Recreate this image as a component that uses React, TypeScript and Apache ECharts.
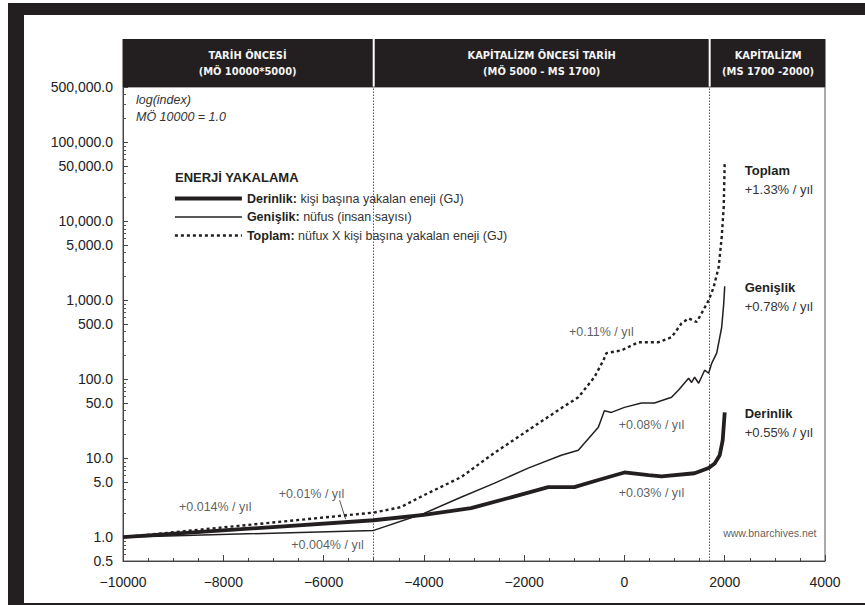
import React, { useEffect, useRef } from 'react';
import * as echarts from 'echarts';

// ---- Data ----
const derinlik: [number, number][] = [
  [-10000, 1.0], [-5000, 1.64], [-4000, 1.92], [-3060, 2.33], [-2260, 3.2], [-1520, 4.3],
  [-1000, 4.3], [-520, 5.3], [0, 6.6], [480, 6.1], [740, 5.9], [1400, 6.45], [1680, 7.5],
  [1800, 8.6], [1900, 10.9], [1960, 16.9], [2000, 38],
];
const genislik: [number, number][] = [
  [-10000, 1.0], [-5000, 1.22], [-4000, 2.0], [-3260, 3.2], [-2600, 4.8], [-1920, 7.5],
  [-1260, 10.9], [-920, 12.6], [-520, 24.7], [-400, 40], [-260, 38], [0, 44], [340, 50],
  [600, 50], [940, 59], [1080, 73], [1280, 103], [1340, 91], [1400, 106], [1480, 89],
  [1600, 130], [1680, 119], [1740, 159], [1840, 214], [1940, 455], [1980, 900], [2000, 1500],
];
const toplam: [number, number][] = [
  [-10000, 1.0], [-5000, 2.05], [-4460, 2.4], [-4000, 3.4], [-3260, 5.75], [-2600, 11.6],
  [-1920, 22.6], [-1260, 43], [-920, 59], [-600, 106], [-420, 173], [-360, 214], [-60, 232],
  [280, 294], [680, 294], [940, 340], [1140, 510], [1280, 590], [1440, 530], [1540, 685],
  [1680, 1000], [1780, 1460], [1880, 2630], [1940, 6300], [1980, 15000], [2000, 55000],
];

const seriesNames = ['Derinlik', 'Genişlik', 'Toplam'];
const legendDescriptions = [
  'kişi başına yakalan eneji (GJ)',
  'nüfus (insan sayısı)',
  'nüfux X kişi başına yakalan eneji (GJ)',
];
const growthRates = ['+0.55% / yıl', '+0.78% / yıl', '+1.33% / yıl'];

const periodStarts = [-10000, -5000, 1700];
const periodEnds = [-5000, 1700, 4000];
const periodTitles = ['TARİH ÖNCESİ', 'KAPİTALİZM ÖNCESİ TARİH', 'KAPİTALİZM'];
const periodRanges = ['(MÖ 10000*5000)', '(MÖ 5000 - MS 1700)', '(MS 1700 -2000)'];

const yLabelValues = [0.5, 1, 5, 10, 50, 100, 500, 1000, 5000, 10000, 50000, 100000, 500000];
const yMinorValues = [
  0.6, 0.7, 0.8, 0.9, 2, 3, 4, 6, 7, 8, 9, 20, 30, 40, 60, 70, 80, 90,
  200, 300, 400, 600, 700, 800, 900, 2000, 3000, 4000, 6000, 7000, 8000, 9000,
  20000, 30000, 40000, 60000, 70000, 80000, 90000, 200000, 300000, 400000,
];

const annotationX = [-8160, -6240, -5920, -460, 540, 540, 2900];
const annotationY = [2.4, 3.5, 0.79, 394, 26.2, 3.6, 1.12];
const annotationText = [
  '+0.014% / yıl', '+0.01% / yıl', '+0.004% / yıl', '+0.11% / yıl',
  '+0.08% / yıl', '+0.03% / yıl', 'www.bnarchives.net',
];
const annotationSize = [12.5, 12.5, 12.5, 12.5, 12.5, 12.5, 10.5];
const pointerFrom: [number, number] = [-5680, 2.94];
const pointerTo: [number, number] = [-5560, 1.69];

const X_MIN = -10000;
const X_MAX = 4000;
const Y_MIN = 0.5;
const Y_MAX = 500000;

const FONT = "'Liberation Sans', Arial, Helvetica, sans-serif";
const HEAD_FONT = "'Liberation Sans Narrow', 'DejaVu Sans Condensed', 'Liberation Sans', sans-serif";
const INK = '#231f20';
const HEADER_H = 48;

export default function App() {
  const ref = useRef<HTMLDivElement>(null);

  useEffect(() => {
    if (!ref.current) return;
    const chart = echarts.init(ref.current, undefined, { renderer: 'svg' });

    const seriesData = [derinlik, genislik, toplam];
    const widths = [3.8, 1.5, 2.4];
    const types: any[] = ['solid', 'solid', [3, 3]];
    const endOffsets = [[12, 11], [12, 11], [12, 17]];

    const lineSeries = seriesNames.map((name, i) => ({
      name,
      type: 'line',
      data: seriesData[i],
      showSymbol: false,
      symbol: 'none',
      smooth: false,
      z: 5,
      lineStyle: { color: INK, width: widths[i], type: types[i] },
      itemStyle: { color: INK },
      endLabel: {
        show: true,
        offset: endOffsets[i],
        formatter: `{n|${name}}\n{p|${growthRates[i]}}`,
        rich: {
          n: { fontFamily: FONT, fontWeight: 'bold', fontSize: 13, color: INK, lineHeight: 19 },
          p: { fontFamily: FONT, fontSize: 13, color: '#333', lineHeight: 19 },
        },
      },
    }));

    const option: any = {
      animation: false,
      backgroundColor: '#ffffff',
      textStyle: { fontFamily: FONT },
      title: [
        {
          text: 'log(index)\nMÖ 10000 = 1.0',
          left: 136,
          top: 91,
          padding: 0,
          textStyle: { fontFamily: FONT, fontStyle: 'italic', fontWeight: 'normal', fontSize: 12.5, color: '#333', lineHeight: 17 },
        },
        {
          text: 'ENERJİ YAKALAMA',
          left: 175,
          top: 171,
          padding: 0,
          textStyle: { fontFamily: FONT, fontWeight: 'bold', fontSize: 13, color: INK },
        },
      ],
      legend: {
        show: true,
        orient: 'vertical',
        left: 173,
        top: 192,
        padding: 0,
        itemWidth: 67,
        itemHeight: 14,
        itemGap: 5.5,
        selectedMode: false,
        itemStyle: { opacity: 0, borderWidth: 0 },
        data: seriesNames.map((name, i) => ({
          name,
          itemStyle: { opacity: 0, borderWidth: 0 },
          lineStyle: { width: widths[i], type: types[i], color: INK, opacity: 1 },
        })),
        formatter: (name: string) => {
          const i = seriesNames.indexOf(name);
          return `{b|${name}:} {r|${legendDescriptions[i]}}`;
        },
        textStyle: {
          fontFamily: FONT,
          fontSize: 12.5,
          color: '#333',
          rich: {
            b: { fontFamily: FONT, fontSize: 12.5, fontWeight: 'bold', color: INK },
            r: { fontFamily: FONT, fontSize: 12.5, color: '#333' },
          },
        },
      },
      grid: {
        left: 123,
        right: 40,
        top: 87,
        bottom: 44,
        show: true,
        borderColor: '#555',
        borderWidth: 1,
        backgroundColor: 'transparent',
      },
      xAxis: {
        type: 'value',
        min: X_MIN,
        max: X_MAX,
        interval: 2000,
        splitLine: { show: false },
        axisLine: { show: true, onZero: false, lineStyle: { color: '#444', width: 1 } },
        axisTick: { show: true, inside: true, length: 6, lineStyle: { color: '#444' } },
        minorTick: { show: true, splitNumber: 4, length: 3, lineStyle: { color: '#444' } },
        axisLabel: {
          margin: 14,
          fontFamily: FONT,
          fontSize: 14,
          color: '#222',
          formatter: (v: number) => (v < 0 ? '\u2212' + Math.abs(v) : String(v)),
        },
      },
      yAxis: [
        {
          type: 'log',
          logBase: 10,
          min: Y_MIN,
          max: Y_MAX,
          position: 'left',
          splitLine: { show: false },
          axisLine: { show: true, onZero: false, lineStyle: { color: '#444', width: 1 } },
          axisTick: { show: true, inside: true, length: 5, customValues: yLabelValues, lineStyle: { color: '#444' } },
          axisLabel: {
            margin: 10,
            fontFamily: FONT,
            fontSize: 14,
            color: '#222',
            customValues: yLabelValues,
            formatter: (v: number) =>
              Number(v).toLocaleString('en-US', { minimumFractionDigits: 1, maximumFractionDigits: 1 }),
          },
        },
        {
          type: 'log',
          logBase: 10,
          min: Y_MIN,
          max: Y_MAX,
          position: 'left',
          offset: 0,
          splitLine: { show: false },
          axisLine: { show: false, onZero: false },
          axisTick: { show: true, inside: true, length: 3, customValues: yMinorValues, lineStyle: { color: '#555' } },
          axisLabel: { show: false },
        },
      ],
      series: [
        ...lineSeries,
        {
          type: 'custom',
          name: 'periods',
          clip: false,
          z: 10,
          silent: true,
          encode: { x: [0, 1], y: 2 },
          data: periodStarts.map((s, i) => [s, periodEnds[i], Y_MAX]),
          renderItem: (params: any, api: any) => {
            const idx = params.dataIndex;
            const p0 = api.coord([api.value(0), Y_MAX]);
            const p1 = api.coord([api.value(1), Y_MAX]);
            const left = p0[0] + (idx > 0 ? 1 : -0.5);
            const right = p1[0] - (idx < periodStarts.length - 1 ? 1 : -0.5);
            const bottom = p0[1];
            const top = bottom - HEADER_H;
            return {
              type: 'group',
              children: [
                {
                  type: 'rect',
                  shape: { x: left, y: top, width: right - left, height: HEADER_H },
                  style: { fill: INK },
                },
                {
                  type: 'text',
                  style: {
                    text: periodTitles[idx] + '\n' + periodRanges[idx],
                    x: (left + right) / 2,
                    y: top + HEADER_H / 2,
                    align: 'center',
                    verticalAlign: 'middle',
                    fill: '#f4f4f4',
                    fontFamily: HEAD_FONT,
                    fontWeight: 'bold',
                    fontSize: 11,
                    lineHeight: 16,
                  },
                },
              ],
            };
          },
        },
        {
          type: 'scatter',
          name: 'annotations',
          silent: true,
          symbol: 'circle',
          symbolSize: 1,
          itemStyle: { color: 'rgba(0,0,0,0)' },
          z: 6,
          data: annotationX.map((x, i) => ({
            value: [x, annotationY[i], annotationText[i]],
            label: { fontSize: annotationSize[i] },
          })),
          label: {
            show: true,
            position: 'inside',
            fontFamily: FONT,
            fontSize: 12.5,
            color: '#333',
            formatter: (p: any) => p.value[2],
          },
          labelLayout: { hideOverlap: false },
          markLine: {
            silent: true,
            symbol: ['none', 'none'],
            label: { show: false },
            lineStyle: { color: '#555', type: [1.5, 1.5], width: 1 },
            data: [
              { xAxis: periodEnds[0] },
              { xAxis: periodEnds[1] },
              [
                { coord: pointerFrom, lineStyle: { color: '#555', type: 'solid', width: 1 } },
                { coord: pointerTo },
              ],
            ],
          },
        },
      ],
      graphic: [
        { type: 'rect', shape: { x: 8, y: 3, width: 857, height: 12 }, style: { fill: INK }, z: 100 },
        { type: 'rect', shape: { x: 8, y: 3, width: 16, height: 602 }, style: { fill: INK }, z: 100 },
        { type: 'rect', shape: { x: 8, y: 603, width: 857, height: 2 }, style: { fill: INK }, z: 100 },
      ],
    };

    chart.setOption(option);
    return () => chart.dispose();
  }, []);

  return (
    <div
      ref={ref}
      style={{ position: 'absolute', left: 0, top: 0, width: 865, height: 605, background: '#fff' }}
    />
  );
}
